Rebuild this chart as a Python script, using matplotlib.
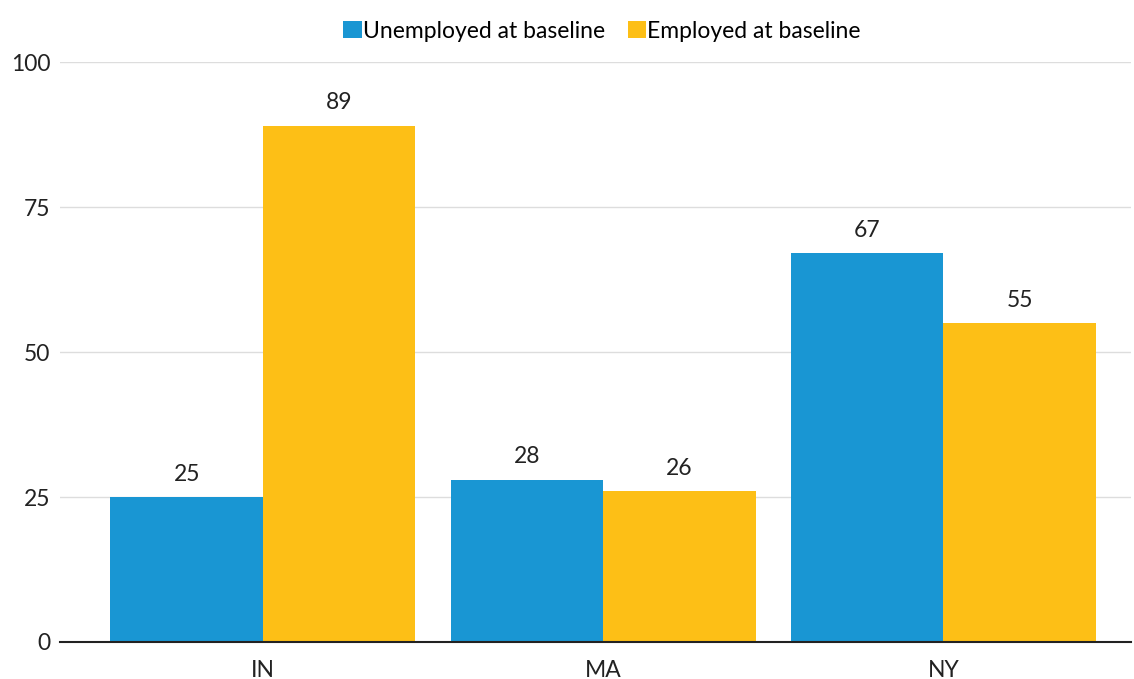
import matplotlib.pyplot as plt
import numpy as np

plt.rcParams['font.family'] = ['Lato', 'DejaVu Sans']

# data
states = ['IN', 'MA', 'NY']
unemployed = [25, 28, 67]
employed = [89, 26, 55]
series_names = ['Unemployed at baseline', 'Employed at baseline']
colors = ['#1996D3', '#FDBF16']

fig = plt.figure(figsize=(11.34, 6.79), dpi=100)
ax = fig.add_axes([0.053, 0.0545, 0.944, 0.854])

x = np.arange(len(states))
w = 0.448
b1 = ax.bar(x - w / 2, unemployed, w, color=colors[0], label=series_names[0], zorder=2)
b2 = ax.bar(x + w / 2, employed, w, color=colors[1], label=series_names[1], zorder=2)

for bars in (b1, b2):
    ax.bar_label(bars, padding=9, fontsize=16.5, color='#222222')

ax.set_ylim(0, 100)
ax.set_yticks([0, 25, 50, 75, 100])
ax.set_xlim(-0.596, 2.55)
ax.set_xticks(x)
ax.set_xticklabels(states)
ax.tick_params(axis='both', length=0, labelsize=16.5, colors='#222222')
ax.tick_params(axis='x', pad=13)
ax.tick_params(axis='y', pad=7)
ax.grid(axis='y', color='#dddddd', linewidth=1, zorder=0)

for s in ['top', 'right', 'left']:
    ax.spines[s].set_visible(False)
ax.spines['bottom'].set_color('#222222')
ax.spines['bottom'].set_linewidth(1.5)
ax.spines['bottom'].set_zorder(3)

fig.legend(loc='upper center', bbox_to_anchor=(0.531, 1.0), ncol=2, frameon=False,
           fontsize=16.5, handlelength=0.8, handleheight=0.8, handletextpad=0.05,
           columnspacing=1.0)

fig.savefig('out.png', dpi=100)
